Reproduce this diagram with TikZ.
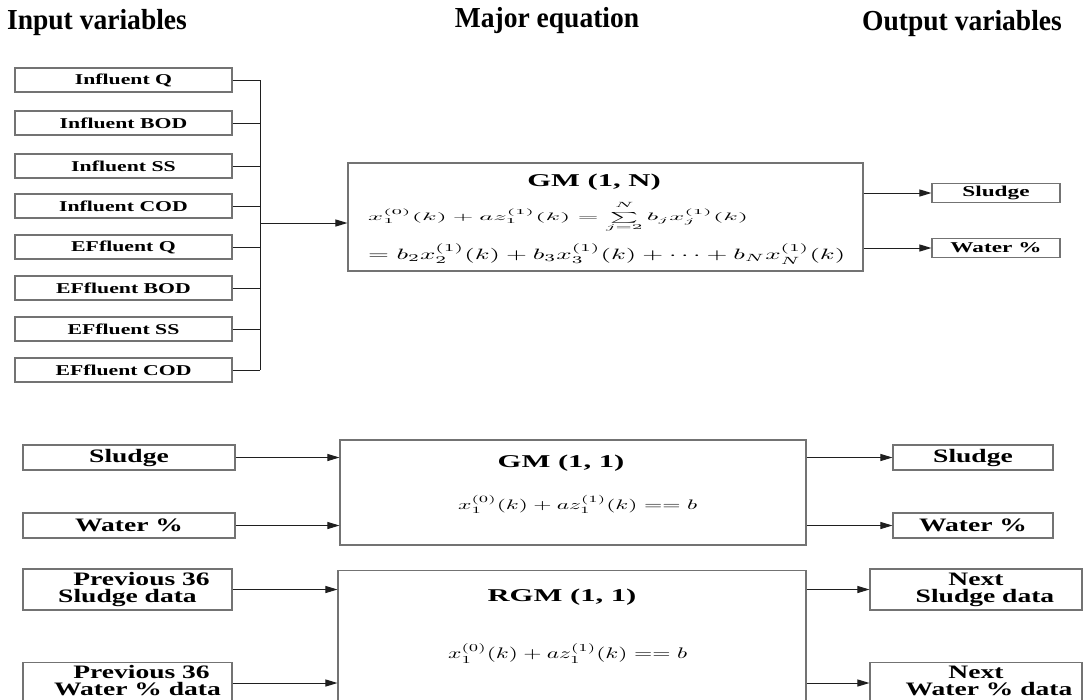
\documentclass[tikz,border=0pt]{standalone}
\usepackage{graphicx}
\usepackage{fontspec}
\setmainfont{Liberation Serif}
\newfontfamily\hdrfont[FakeStretch=0.95]{Liberation Serif}
\newfontfamily\labfont[FakeStretch=1.45]{Liberation Serif}
\newfontfamily\outfont[FakeStretch=1.55]{Liberation Serif}
\newfontfamily\ttlfont[FakeStretch=1.7]{Liberation Serif}
\usetikzlibrary{arrows.meta,calc}
\definecolor{boxgray}{gray}{0.45}
\definecolor{linegray}{gray}{0.12}
\begin{document}
\begin{tikzpicture}[x=1pt,y=-1pt,
  box/.style={draw=boxgray, line width=1.1pt, inner sep=0pt},
  inbox/.style={box, minimum width=217pt, minimum height=24pt,
    font=\labfont\bfseries\fontsize{15}{17}\selectfont},
  outsm/.style={box, minimum width=128pt, minimum height=19pt,
    font=\outfont\bfseries\fontsize{15}{17}\selectfont},
  bigbox/.style={box, font=\labfont\bfseries\fontsize{19}{17}\selectfont, align=center},
  hdr/.style={anchor=base, inner sep=0pt, font=\hdrfont\bfseries\fontsize{29}{31}\selectfont},
  ttl/.style={anchor=base, inner sep=0pt, font=\ttlfont\bfseries\fontsize{18}{20}\selectfont},
  eqn/.style={anchor=west, inner sep=0pt},
  wire/.style={draw=linegray, line width=1pt},
  arr/.style={wire, -{Triangle[length=12pt,width=7pt]}},
]
\useasboundingbox (0,0) rectangle (1083,699);
\fill[white] (0,0) rectangle (1083,699);
\clip (0,0) rectangle (1083,699);

% headers
\node[hdr] (hin) at (97,29) {Input variables};
\node[hdr] (hmaj) at (547,27) {Major equation};
\node[hdr] (hout) at (962,30) {Output variables};

% ---------- GM(1,N) section ----------
\node[inbox] (i1) at (123.5,80) {Influent Q};
\node[inbox] (i2) at (123.5,123) {Influent BOD};
\node[inbox] (i3) at (123.5,166) {Influent SS};
\node[inbox] (i4) at (123.5,206) {Influent COD};
\node[inbox] (i5) at (123.5,247) {EFfluent Q};
\node[inbox] (i6) at (123.5,288) {EFfluent BOD};
\node[inbox] (i7) at (123.5,329) {EFfluent SS};
\node[inbox] (i8) at (123.5,370) {EFfluent COD};

\node[box, minimum width=515pt, minimum height=108pt] (gmN) at (605.5,217) {};
\node[ttl] (tN) at (594,186) {GM (1, N)};
\node[eqn] (eN1) at (368,217) {\resizebox*{380pt}{31pt}{$x_1^{(0)}(k)+az_1^{(1)}(k)= \sum\limits_{j=2}^{\raisebox{2.5pt}{$\scriptstyle N$}} b_j x_j^{(1)}(k)$}};
\node[eqn] (eN2) at (368,254) {\resizebox*{477pt}{20pt}{$=b_2x_2^{(1)}(k)+b_3x_3^{(1)}(k)+\cdots+b_Nx_N^{(1)}(k)$}};

\coordinate (bus) at (260,223);
\foreach \n in {i1,i2,i3,i4,i5,i6,i7,i8}{
  \draw[wire] (\n.east) -- (\n.east -| bus);
}
\draw[wire] (i1.east -| bus) -- (i8.east -| bus);
\draw[arr] (bus) -- (bus -| gmN.west);

\node[outsm] (o1) at (996,193) {Sludge};
\node[outsm] (o2) at (996,248) {Water \%};
\draw[arr] (o1.west -| gmN.east) -- (o1.west);
\draw[arr] (o2.west -| gmN.east) -- (o2.west);

% ---------- GM(1,1) section ----------
\node[bigbox, minimum width=212pt, minimum height=25pt] (s1) at (129,457.5) {Sludge};
\node[bigbox, minimum width=212pt, minimum height=25pt] (w1) at (129,525.5) {Water \%};
\node[box, minimum width=466pt, minimum height=105pt] (gm11) at (573,492.5) {};
\node[ttl] (t11) at (561,467) {GM (1, 1)};
\node[eqn] (e11) at (458,504) {\resizebox*{239pt}{18pt}{$x_1^{(0)}(k)+az_1^{(1)}(k)==b$}};
\draw[arr] (s1.east) -- (s1.east -| gm11.west);
\draw[arr] (w1.east) -- (w1.east -| gm11.west);

\node[bigbox, minimum width=160pt, minimum height=25pt] (s2) at (973,457.5) {Sludge};
\node[bigbox, minimum width=160pt, minimum height=25pt] (w2) at (973,525.5) {Water \%};
\draw[arr] (s2.west -| gm11.east) -- (s2.west);
\draw[arr] (w2.west -| gm11.east) -- (w2.west);

% ---------- RGM(1,1) section ----------
\node[bigbox, minimum width=209pt, minimum height=41pt] (p1) at (127.5,589.5) {\hspace*{28pt}Previous 36\\Sludge data};
\node[bigbox, minimum width=209pt, anchor=north, inner ysep=3pt, text depth=45pt] (p2) at (127.5,662) {\hspace*{28pt}Previous 36\\\hspace*{20pt}Water \% data};
\node[box, minimum width=468pt, minimum height=170pt, anchor=north] (rgm) at (572,570) {};
\node[ttl] (tr) at (562,601) {RGM (1, 1)};
\node[eqn] (er) at (448,653) {\resizebox*{239pt}{20pt}{$x_1^{(0)}(k)+az_1^{(1)}(k)==b$}};
\coordinate (p2a) at ($(p2.north east)+(0,21)$);
\draw[arr] (p1.east) -- (p1.east -| rgm.west);
\draw[arr] (p2a) -- (p2a -| rgm.west);

\node[bigbox, minimum width=212pt, minimum height=41pt] (n1) at (976,589.5) {Next\\\hspace*{18pt}Sludge data};
\node[bigbox, minimum width=212pt, anchor=north, inner ysep=3pt, text depth=45pt] (n2) at (976,662) {Next\\\hspace*{26pt}Water \% data};
\coordinate (n2a) at ($(n2.north west)+(0,21)$);
\draw[arr] (p1.east -| rgm.east) -- (n1.west |- p1.east);
\draw[arr] (n2a -| rgm.east) -- (n2a);
\end{tikzpicture}
\end{document}
